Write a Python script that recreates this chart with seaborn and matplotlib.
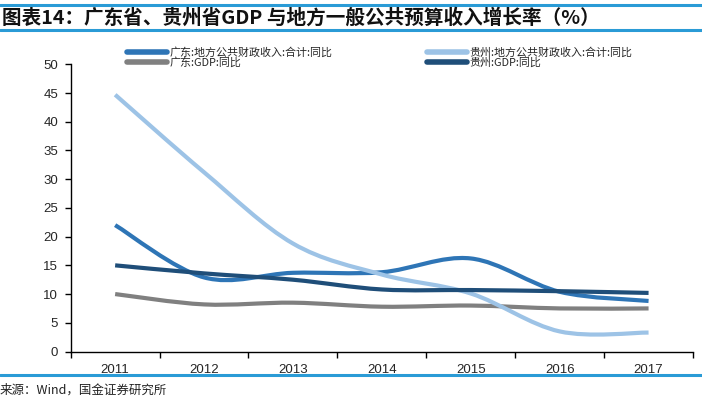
import numpy as np
import pandas as pd
import matplotlib
matplotlib.use('Agg')
import matplotlib.pyplot as plt
from matplotlib.path import Path
from matplotlib.patches import PathPatch
from matplotlib.lines import Line2D
import seaborn as sns

# data
years = ["2011", "2012", "2013", "2014", "2015", "2016", "2017"]
gd_fiscal = [22.0, 12.9, 13.7, 13.8, 16.2, 10.4, 8.8]
gz_fiscal = [44.7, 31.2, 18.8, 13.4, 10.1, 3.5, 3.3]
gd_gdp = [10.0, 8.2, 8.5, 7.8, 8.0, 7.5, 7.5]
gz_gdp = [15.0, 13.6, 12.5, 10.8, 10.7, 10.5, 10.2]

series_names = ["广东:地方公共财政收入:合计:同比", "广东:GDP:同比",
                "贵州:地方公共财政收入:合计:同比", "贵州:GDP:同比"]
series_colors = ["#2E75B6", "#808080", "#9DC3E6", "#1F4E79"]

title_text = "图表14：广东省、贵州省GDP 与地方一般公共预算收入增长率（%）"
source_text = "来源：Wind，国金证券研究所"

frames = []
for name, vals in zip(series_names, [gd_fiscal, gd_gdp, gz_fiscal, gz_gdp]):
    frames.append(pd.DataFrame({"pos": np.arange(len(years)), "value": vals, "series": name}))
df = pd.concat(frames, ignore_index=True)

sns.set_style("ticks")
plt.rcParams['font.family'] = ['Liberation Sans', 'Noto Sans CJK SC', 'DejaVu Sans']
cjk = ['Noto Sans CJK SC', 'DejaVu Sans']

fig = plt.figure(figsize=(7.02, 3.98), dpi=100)
ax = fig.add_axes([0.1007, 0.1168, 0.8865, 0.7217])

sns.lineplot(data=df, x="pos", y="value", hue="series", hue_order=series_names,
             palette=series_colors, linewidth=3, legend=False, ax=ax)


def smooth_path(x, y):
    # Catmull-Rom style bezier, similar to Excel "smoothed line"
    verts = [(x[0], y[0])]
    codes = [Path.MOVETO]
    n = len(x)
    for i in range(n - 1):
        x0, y0 = (x[i - 1], y[i - 1]) if i > 0 else (x[i], y[i])
        x3, y3 = (x[i + 2], y[i + 2]) if i + 2 < n else (x[i + 1], y[i + 1])
        c1 = (x[i] + (x[i + 1] - x0) / 6, y[i] + (y[i + 1] - y0) / 6)
        c2 = (x[i + 1] - (x3 - x[i]) / 6, y[i + 1] - (y3 - y[i]) / 6)
        verts += [c1, c2, (x[i + 1], y[i + 1])]
        codes += [Path.CURVE4] * 3
    return Path(verts, codes)


# swap seaborn's straight segments for smoothed curves
for line in list(ax.lines):
    xd, yd = line.get_xdata(), line.get_ydata()
    patch = PathPatch(smooth_path(np.asarray(xd, float), np.asarray(yd, float)),
                      facecolor='none', edgecolor=line.get_color(), lw=3,
                      capstyle='butt', joinstyle='round', transform=ax.transData)
    ax.add_patch(patch)
    line.set_visible(False)

ax.set_xlim(-0.5, len(years) - 0.5)
ax.set_ylim(0, 50)
ax.set_yticks(np.arange(0, 51, 5))
ax.set_xticks(np.arange(len(years)))
ax.set_xticklabels(years)
ax.set_xticks(np.arange(-0.5, len(years)), minor=True)
ax.tick_params(axis='x', which='major', length=0, pad=9, labelsize=9.5)
ax.tick_params(axis='x', which='minor', length=4, width=1, direction='out', color='black')
ax.tick_params(axis='y', length=4, width=1, pad=5, labelsize=9.5, color='black')
ax.set_xlabel("")
ax.set_ylabel("")
for s in ['top', 'right']:
    ax.spines[s].set_visible(False)
for s in ['left', 'bottom']:
    ax.spines[s].set_color('black')
    ax.spines[s].set_linewidth(1)

# legends: two columns placed like the original
handles = [Line2D([], [], color=c, lw=4) for c in series_colors]
for k, x0 in enumerate([127, 427]):
    fig.legend(handles[2 * k:2 * k + 2], series_names[2 * k:2 * k + 2], loc='upper left',
               bbox_to_anchor=(x0 / 702, 1 - 47.5 / 398), frameon=False,
               prop={'family': cjk, 'size': 7.9}, handlelength=3.6,
               handletextpad=0.3, labelspacing=-0.05, borderpad=0, borderaxespad=0)

# header / footer rules
rule_color = "#2A9BD6"
for yy in [5, 30, 374.5]:
    fig.add_artist(Line2D([0, 1], [1 - yy / 398, 1 - yy / 398], color=rule_color,
                          lw=2.2, transform=fig.transFigure))

fig.text(2 / 702, 1 - 17.5 / 398, title_text, family=cjk, fontsize=14.1,
         fontweight='bold', va='center', ha='left', color='#111111')
fig.text(0, 1 - 390 / 398, source_text, family=cjk, fontsize=9,
         va='center', ha='left', color='#222222')

fig.savefig("out.png", dpi=100)
